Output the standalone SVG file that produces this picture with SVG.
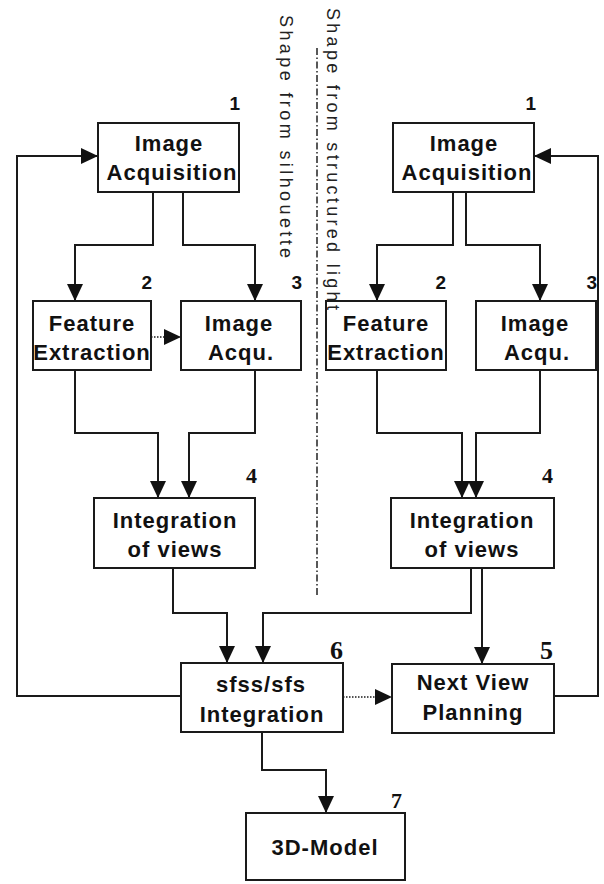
<svg xmlns="http://www.w3.org/2000/svg" width="604" height="884" viewBox="0 0 604 884">
<style>
.box{fill:#fff;stroke:#1a1a1a;stroke-width:2}
.lbl{font-family:"Liberation Sans",Arial,sans-serif;font-weight:bold;font-size:22px;letter-spacing:1px;fill:#111;text-anchor:middle}
.num{font-family:"Liberation Sans",Arial,sans-serif;font-weight:bold;font-size:19px;fill:#111;text-anchor:end}
.nums{font-family:"Liberation Serif","Times New Roman",serif;font-weight:bold;font-size:22px;fill:#111;text-anchor:end}
.side{font-family:"Liberation Sans",Arial,sans-serif;font-size:18px;fill:#222}
.ln{fill:none;stroke:#1a1a1a;stroke-width:2;marker-end:url(#ah)}
.dot{fill:none;stroke:#1a1a1a;stroke-width:1.5;stroke-dasharray:1.5,1.5;marker-end:url(#ah)}
</style>
<defs>
<marker id="ah" markerUnits="userSpaceOnUse" markerWidth="18" markerHeight="18" refX="17" refY="8" orient="auto">
<path d="M0,0 L17,8 L0,16 z" fill="#111"/>
</marker>
</defs>
<rect width="604" height="884" fill="#fff"/>

<g id="connectors">
<path class="ln" d="M153,192 V245 H75 V301"/>
<path class="ln" d="M183,192 V245 H255 V301"/>
<path class="ln" d="M75,370 V433 H158 V498"/>
<path class="ln" d="M255,370 V433 H189 V498"/>
<path class="ln" d="M173,568 V613 H227 V663"/>
<path class="ln" d="M453,192 V245 H377 V301"/>
<path class="ln" d="M466,192 V245 H540 V301"/>
<path class="ln" d="M377,370 V433 H462 V498"/>
<path class="ln" d="M540,370 V433 H476 V498"/>
<path class="ln" d="M471,568 V613 H263 V663"/>
<path class="ln" d="M482,568 V664"/>
<path class="ln" d="M262,732 V770 H326 V813"/>
<path class="ln" d="M181,696 H17 V156 H98"/>
<path class="ln" d="M554,696 H598 V156 H534"/>
<path class="dot" d="M151,337 H181"/>
<path class="dot" d="M343,697 H392"/>
</g>

<g id="n1L">
<rect class="box" x="98" y="123" width="141" height="69"/>
<text class="lbl" x="169" y="151">Image</text>
<text class="lbl" x="172" y="180">Acquisition</text>
<text class="num" x="240" y="110">1</text>
</g>
<g id="n1R">
<rect class="box" x="393" y="123" width="141" height="69"/>
<text class="lbl" x="464" y="151">Image</text>
<text class="lbl" x="467" y="180">Acquisition</text>
<text class="num" x="536" y="110">1</text>
</g>
<g id="n2L">
<rect class="box" x="33" y="301" width="118" height="69"/>
<text class="lbl" x="92" y="331">Feature</text>
<text class="lbl" x="92" y="360">Extraction</text>
<text class="num" x="152" y="289">2</text>
</g>
<g id="n3L">
<rect class="box" x="181" y="301" width="120" height="69"/>
<text class="lbl" x="239" y="331">Image</text>
<text class="lbl" x="241" y="360">Acqu.</text>
<text class="num" x="302" y="289">3</text>
</g>
<g id="n2R">
<rect class="box" x="326" y="301" width="120" height="69"/>
<text class="lbl" x="386" y="331">Feature</text>
<text class="lbl" x="386" y="360">Extraction</text>
<text class="num" x="446" y="289">2</text>
</g>
<g id="n3R">
<rect class="box" x="476" y="301" width="120" height="69"/>
<text class="lbl" x="535" y="331">Image</text>
<text class="lbl" x="537" y="360">Acqu.</text>
<text class="num" x="597" y="289">3</text>
</g>
<g id="n4L">
<rect class="box" x="94" y="498" width="161" height="70"/>
<text class="lbl" x="175" y="528">Integration</text>
<text class="lbl" x="175" y="557">of views</text>
<text class="nums" x="257" y="483">4</text>
</g>
<g id="n4R">
<rect class="box" x="391" y="498" width="163" height="70"/>
<text class="lbl" x="472" y="528">Integration</text>
<text class="lbl" x="472" y="557">of views</text>
<text class="nums" x="553" y="483">4</text>
</g>
<g id="n6">
<rect class="box" x="181" y="663" width="162" height="69"/>
<text class="lbl" x="261" y="692">sfss/sfs</text>
<text class="lbl" x="262" y="722">Integration</text>
<text class="nums" x="343" y="659" style="font-size:26px">6</text>
</g>
<g id="n5">
<rect class="box" x="392" y="664" width="162" height="69"/>
<text class="lbl" x="473" y="690">Next View</text>
<text class="lbl" x="473" y="720">Planning</text>
<text class="nums" x="553" y="659" style="font-size:26px">5</text>
</g>
<g id="n7">
<rect class="box" x="246" y="813" width="159" height="67"/>
<text class="lbl" x="325" y="855">3D-Model</text>
<text class="nums" x="402" y="808">7</text>
</g>

<g id="divider">
<line x1="317" y1="48" x2="317" y2="595" stroke="#222" stroke-width="1.5" stroke-dasharray="7,2.5,1.5,2.5"/>
<text class="side" transform="translate(280,15) rotate(90)" style="letter-spacing:3.4px">Shape from silhouette</text>
<text class="side" transform="translate(327,8) rotate(90)" style="letter-spacing:3.3px">Shape from structured light</text>
</g>
</svg>
